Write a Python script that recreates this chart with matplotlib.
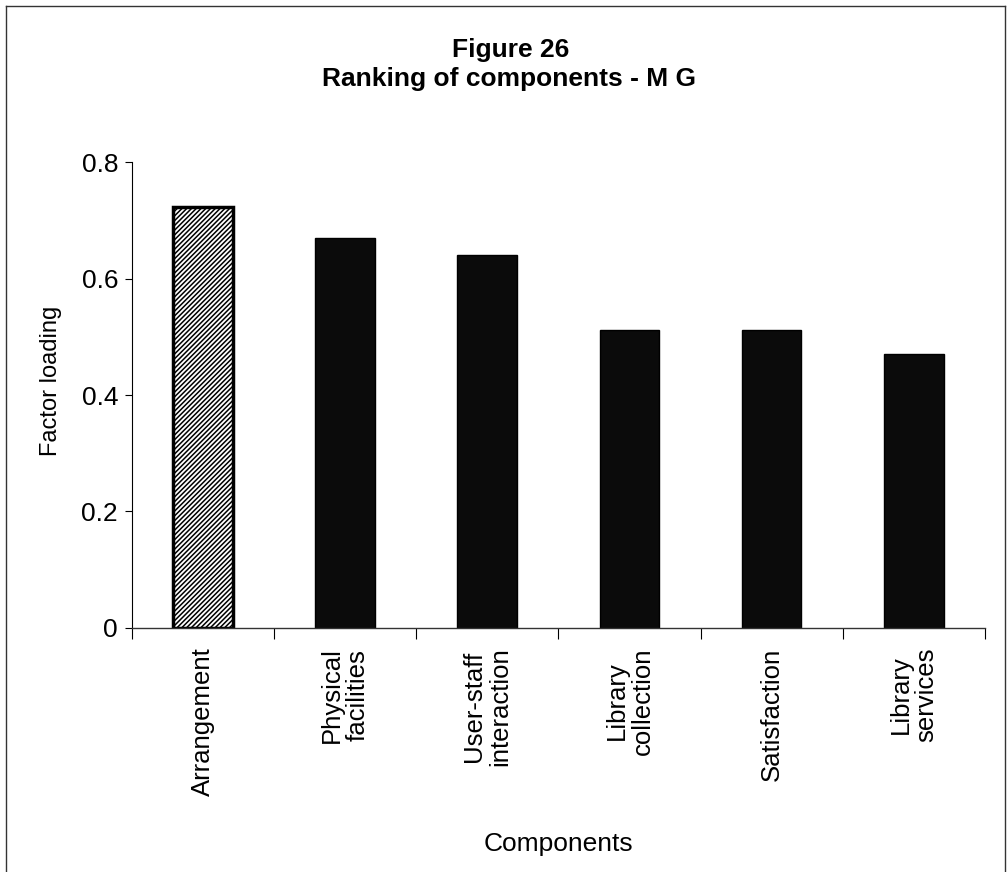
import matplotlib
matplotlib.use("Agg")
import matplotlib.pyplot as plt
from matplotlib.lines import Line2D
import numpy as np

plt.rcParams['font.family'] = ['Liberation Sans', 'DejaVu Sans']
plt.rcParams['hatch.linewidth'] = 1.1

components = ["Arrangement", "Physical\nfacilities", "User-staff\ninteraction",
              "Library\ncollection", "Satisfaction", "Library\nservices"]
loadings = [0.723, 0.670, 0.641, 0.511, 0.511, 0.470]
y_ticks = [0, 0.2, 0.4, 0.6, 0.8]
y_tick_labels = ["0", "0.2", "0.4", "0.6", "0.8"]

fig = plt.figure(figsize=(10.07, 8.72), dpi=100)
ax = fig.add_axes([0.131, 0.280, 0.847, 0.534])

x = np.arange(len(components))
bars = ax.bar(x, loadings, width=0.42, color="#0b0b0b", edgecolor="#000000", linewidth=1)
# first bar is highlighted with a dense diagonal hatch
bars[0].set_facecolor("white")
bars[0].set_hatch("///////")
bars[0].set_linewidth(2.5)

ax.set_xlim(-0.5, len(components) - 0.5)
ax.set_ylim(0, 0.8)
ax.set_yticks(y_ticks)
ax.set_yticklabels(y_tick_labels, fontsize=19)
ax.tick_params(axis="y", direction="out", length=5, width=0.8, pad=5)

ax.set_xticks(x)
ax.set_xticklabels(components, rotation=90, fontsize=18.5, va="top", ha="center",
                   multialignment="center", linespacing=1.1)
ax.tick_params(axis="x", length=0, pad=14)
ax.set_xticks(np.arange(len(components) + 1) - 0.5, minor=True)
ax.tick_params(axis="x", which="minor", direction="out", length=8, width=0.8)

for side in ("top", "right"):
    ax.spines[side].set_visible(False)
ax.spines["left"].set_linewidth(0.8)
ax.spines["bottom"].set_linewidth(1.0)
ax.spines["bottom"].set_color("#333333")

ax.set_ylabel("Factor loading", fontsize=17)
ax.yaxis.set_label_coords(-0.082, 0.53)
ax.set_xlabel("Components", fontsize=19, labelpad=26)

fig.text(0.507, 0.943, "Figure 26", ha="center", va="center", fontsize=19, fontweight="bold")
fig.text(0.505, 0.909, "Ranking of components - M G", ha="center", va="center",
         fontsize=19, fontweight="bold")

# scanned page frame
for xs, ys in [([0.006, 0.998], [0.993, 0.993]), ([0.006, 0.006], [0.0, 0.993]),
               ([0.998, 0.998], [0.0, 0.993])]:
    fig.add_artist(Line2D(xs, ys, transform=fig.transFigure, color="#333333", lw=1))

fig.savefig("out.png", dpi=100)
